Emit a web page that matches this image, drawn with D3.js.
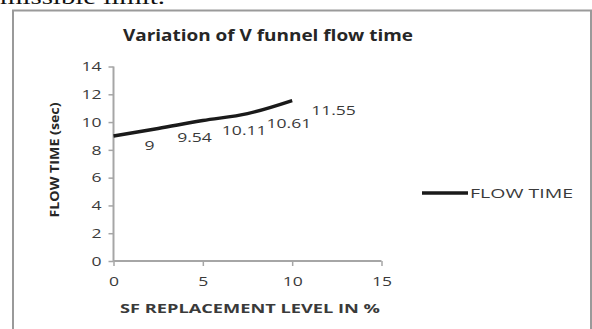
<!DOCTYPE html>
<html>
<head>
<meta charset="utf-8">
<script src="https://cdn.jsdelivr.net/npm/d3@7"></script>
<style>
  body { margin: 0; background: #fff; }
  svg { display: block; }
</style>
</head>
<body>
<div id="chart"></div>
<script>
// chart values
const levels = [0, 2.5, 5, 7.5, 10];
const flowTime = [9, 9.54, 10.11, 10.61, 11.55];
const xTicks = [0, 5, 10, 15];
const yTicks = [0, 2, 4, 6, 8, 10, 12, 14];
const seriesName = "FLOW TIME";

const width = 592, height = 329;
const font = "'Open Sans', sans-serif";
const stretch = 1.3; // the picture is wider than the font

const svg = d3.select("#chart").append("svg")
  .attr("width", width)
  .attr("height", height);

svg.append("rect").attr("width", width).attr("height", height).attr("fill", "#fff");

// bit of page text cut off above the chart
svg.append("text")
  .attr("x", 0).attr("y", 4)
  .attr("font-family", "'Liberation Serif', serif")
  .attr("font-size", 21)
  .attr("textLength", 165)
  .attr("lengthAdjust", "spacingAndGlyphs")
  .attr("fill", "#111")
  .text("missible limit.");

// chart frame (bottom runs off the picture)
svg.append("path")
  .attr("d", "M13,340 V10.5 H591 V340")
  .attr("fill", "none")
  .attr("stroke", "#9a9a9a")
  .attr("stroke-width", 2);

const x = d3.scaleLinear().domain([0, 15]).range([113.5, 381.5]);
const y = d3.scaleLinear().domain([0, 14]).range([261, 66.5]);

function widen(sel) {
  sel.each(function() {
    const len = this.getComputedTextLength();
    d3.select(this).attr("textLength", len * stretch).attr("lengthAdjust", "spacingAndGlyphs");
  });
}

const axisColor = "#a6a6a6";
const labelColor = "#3a3a3a";

const yAxis = svg.append("g")
  .attr("transform", `translate(${x(0)},0)`)
  .call(d3.axisLeft(y).tickValues(yTicks).tickSize(5).tickPadding(7));
const xAxis = svg.append("g")
  .attr("transform", `translate(0,${y(0)})`)
  .call(d3.axisBottom(x).tickValues(xTicks).tickSize(5).tickPadding(10));

[yAxis, xAxis].forEach(ax => {
  ax.select(".domain").attr("stroke", axisColor).attr("stroke-width", 2);
  ax.selectAll(".tick line").attr("stroke", axisColor).attr("stroke-width", 1.5);
  ax.selectAll(".tick text")
    .attr("font-family", font)
    .attr("font-size", 13.5)
    .attr("fill", labelColor)
    .call(widen);
});
xAxis.select(".domain").attr("d", `M${x(0)},0H${x(15)}`);
yAxis.select(".domain").attr("d", `M0,${y(14)}V${y(0)}`);

// the series
const line = d3.line()
  .x((d, i) => x(levels[i]))
  .y(d => y(d))
  .curve(d3.curveMonotoneX);

svg.append("path")
  .datum(flowTime)
  .attr("d", line)
  .attr("fill", "none")
  .attr("stroke", "#1a1a1a")
  .attr("stroke-width", 3.5);

// data labels, to the right of each point
svg.selectAll(".dlabel")
  .data(flowTime)
  .join("text")
  .attr("class", "dlabel")
  .attr("x", (d, i) => x(levels[i]) + (i === 0 ? 31 : 19))
  .attr("y", d => y(d) + 14)
  .attr("font-family", font)
  .attr("font-size", 13.5)
  .attr("fill", labelColor)
  .text(d => d)
  .call(widen);

// title
svg.append("text")
  .attr("x", 268).attr("y", 41)
  .attr("text-anchor", "middle")
  .attr("font-family", font)
  .attr("font-weight", "bold")
  .attr("font-size", 16.5)
  .attr("textLength", 290)
  .attr("lengthAdjust", "spacingAndGlyphs")
  .attr("fill", "#262626")
  .text("Variation of V funnel flow time");

// axis titles
svg.append("text")
  .attr("x", 250).attr("y", 313)
  .attr("text-anchor", "middle")
  .attr("font-family", font)
  .attr("font-weight", "bold")
  .attr("font-size", 13)
  .attr("textLength", 260)
  .attr("lengthAdjust", "spacingAndGlyphs")
  .attr("fill", "#3a3a3a")
  .text("SF REPLACEMENT LEVEL IN %");

svg.append("text")
  .attr("transform", "translate(59,160) rotate(-90)")
  .attr("text-anchor", "middle")
  .attr("font-family", font)
  .attr("font-weight", "bold")
  .attr("font-size", 12)
  .attr("textLength", 115)
  .attr("lengthAdjust", "spacingAndGlyphs")
  .attr("fill", "#262626")
  .text("FLOW TIME (sec)");

// legend
const legend = svg.append("g").attr("transform", "translate(422,193)");
legend.append("line")
  .attr("x1", 0).attr("x2", 46)
  .attr("stroke", "#1a1a1a")
  .attr("stroke-width", 3.5);
legend.append("text")
  .attr("x", 48).attr("y", 4.5)
  .attr("font-family", font)
  .attr("font-size", 13)
  .attr("textLength", 103)
  .attr("lengthAdjust", "spacingAndGlyphs")
  .attr("fill", "#3a3a3a")
  .text(seriesName);
</script>
</body>
</html>
